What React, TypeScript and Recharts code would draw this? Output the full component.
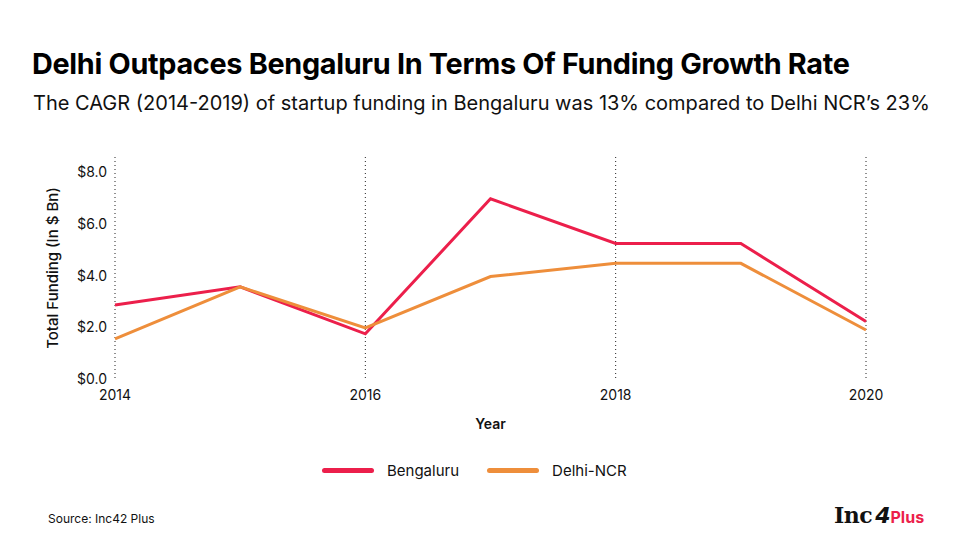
import React from 'react';
import { CartesianGrid, Line, LineChart, XAxis, YAxis } from 'recharts';

const years = [2014, 2015, 2016, 2017, 2018, 2019, 2020];
const bengaluru = [2.87, 3.57, 1.75, 6.98, 5.25, 5.25, 2.23];
const delhiNcr = [1.55, 3.57, 1.98, 3.97, 4.48, 4.48, 1.9];
const xTicks = [2014, 2016, 2018, 2020];
const yTicks = [0, 2, 4, 6, 8];

const RED = '#EC1F4B';
const ORANGE = '#EE8E3B';
const FONT = 'Inter, "Noto Sans", sans-serif';

const data = years.map((year, i) => ({
    year,
    Bengaluru: bengaluru[i],
    'Delhi-NCR': delhiNcr[i],
}));

const LegendItem = ({ color, label }: { color: string; label: string }) => (
    <div style={{ display: 'flex', alignItems: 'center', marginRight: 28 }}>
        <div style={{ width: 52, height: 5, borderRadius: 3, background: color, marginRight: 13 }} />
        <span style={{ fontSize: 15, color: '#111' }}>{label}</span>
    </div>
);

const App = () => {
    return (
        <div style={{ position: 'absolute', left: 0, top: 0, width: 971, height: 552, background: '#fff', fontFamily: FONT, overflow: 'hidden' }}>
            <div style={{ position: 'absolute', left: 32, top: 46, fontSize: 28.8, fontWeight: 700, color: '#000', letterSpacing: -0.3, whiteSpace: 'nowrap' }}>
                Delhi Outpaces Bengaluru In Terms Of Funding Growth Rate
            </div>
            <div style={{ position: 'absolute', left: 33, top: 91, fontSize: 20, color: '#111', whiteSpace: 'nowrap' }}>
                The CAGR (2014-2019) of startup funding in Bengaluru was 13% compared to Delhi NCR’s 23%
            </div>

            <div style={{ position: 'absolute', left: 0, top: 0 }}>
                <LineChart width={971} height={552} data={data} margin={{ top: 157, right: 105, left: 55, bottom: 123 }}>
                    <CartesianGrid horizontal={false} stroke="#222" strokeDasharray="1 3" />
                    <XAxis
                        dataKey="year"
                        type="number"
                        domain={[2014, 2020]}
                        ticks={xTicks}
                        axisLine={false}
                        tickLine={false}
                        tickMargin={5}
                        height={50}
                        tick={{ fill: '#111', fontSize: 14, fontFamily: FONT }}
                        label={{ value: 'Year', position: 'insideBottom', offset: 0, fill: '#111', fontSize: 14, fontWeight: 600, fontFamily: FONT }}
                    />
                    <YAxis
                        type="number"
                        domain={[0, 8.6]}
                        ticks={yTicks}
                        axisLine={false}
                        tickLine={false}
                        width={60}
                        tickFormatter={(v: number) => `$${v.toFixed(1)}`}
                        tick={{ fill: '#111', fontSize: 14, fontFamily: FONT }}
                        label={{ value: 'Total Funding (In $ Bn)', angle: -90, position: 'insideLeft', offset: -2, fill: '#111', fontSize: 15, fontWeight: 500, fontFamily: FONT, style: { textAnchor: 'middle' } }}
                    />
                    <Line type="linear" dataKey="Bengaluru" stroke={RED} strokeWidth={3} dot={false} isAnimationActive={false} />
                    <Line type="linear" dataKey="Delhi-NCR" stroke={ORANGE} strokeWidth={3} dot={false} isAnimationActive={false} />
                </LineChart>
            </div>

            <div style={{ position: 'absolute', left: 322, top: 461, display: 'flex' }}>
                <LegendItem color={RED} label="Bengaluru" />
                <LegendItem color={ORANGE} label="Delhi-NCR" />
            </div>

            <div style={{ position: 'absolute', left: 48, top: 511, fontSize: 12, color: '#111' }}>Source: Inc42 Plus</div>

            <div style={{ position: 'absolute', left: 834, top: 502, display: 'flex', alignItems: 'baseline', whiteSpace: 'nowrap' }}>
                <span style={{ fontFamily: '"DejaVu Serif", serif', fontWeight: 700, fontSize: 22, color: '#111', letterSpacing: -0.5 }}>Inc</span>
                <span style={{ fontFamily: '"DejaVu Sans", sans-serif', fontWeight: 700, fontSize: 22, color: '#111', fontStyle: 'italic', marginLeft: 3 }}>4</span>
                <span style={{ fontFamily: FONT, fontWeight: 700, fontSize: 16, color: RED }}>Plus</span>
            </div>
        </div>
    );
};

export default App;
